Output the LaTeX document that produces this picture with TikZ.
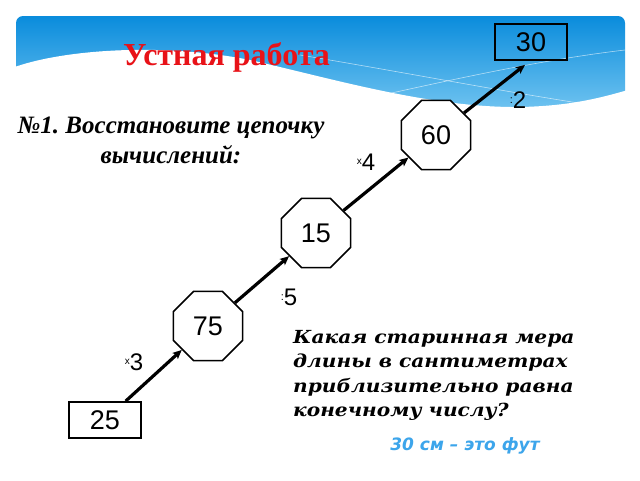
\documentclass[tikz,border=0pt]{standalone}
\usepackage{fontspec}
\setmainfont{Liberation Serif}
\newfontfamily\arialf{Liberation Sans}
\newfontfamily\qfont[FakeStretch=1.12]{DejaVu Serif}
\newfontfamily\dsans{DejaVu Sans}
\usetikzlibrary{shapes.geometric,arrows.meta}
\definecolor{bannertop}{RGB}{10,140,220}
\definecolor{bannerbot}{RGB}{120,200,242}
\definecolor{titlered}{RGB}{232,18,24}
\definecolor{answerblue}{RGB}{60,165,235}
\frenchspacing
\begin{document}
\begin{tikzpicture}[x=1pt,y=-1pt,
  numbox/.style={draw,line width=1.8pt,minimum width=72pt,minimum height=36pt,inner sep=0pt,font=\arialf\fontsize{27}{27}\selectfont},
  octa/.style={draw,line width=1.6pt,regular polygon,regular polygon sides=8,minimum size=75pt,inner sep=0pt,fill=white,font=\arialf\fontsize{27}{27}\selectfont},
  link/.style={line width=3.2pt,-{Stealth[length=9pt,width=8pt,inset=2pt]}},
  oplabel/.style={font=\arialf\fontsize{24}{24}\selectfont,inner sep=0pt}
]
\useasboundingbox (0,0) rectangle (640,480);
\fill[white] (0,0) rectangle (640,480);
% banner
\shade[top color=bannertop,bottom color=bannerbot,rounded corners=7pt] (16,16) rectangle (625,118);
\begin{scope}
\clip (16,16) rectangle (625,118);
\draw[white,opacity=0.6,line width=0.6pt] (300,55) .. controls (420,75) and (520,95) .. (625,110);
\draw[white,opacity=0.6,line width=0.6pt] (360,100) .. controls (450,80) and (540,60) .. (625,50);
\end{scope}
\fill[white] (12,68) .. controls (60,50) and (160,42) .. (250,60) .. controls (330,78) and (430,108) .. (520,107) .. controls (570,106) and (600,98) .. (628,90) -- (628,130) -- (12,130) -- cycle;

% texts
\node[font=\bfseries\fontsize{32}{32}\selectfont,text=titlered,anchor=base west,inner sep=0pt] (title) at (123,65) {Устная работа};
\node[font=\bfseries\itshape\fontsize{25}{30}\selectfont,align=center] (task) at (171,140) {№1. Восстановите цепочку\\вычислений:};
\node[font=\qfont\bfseries\itshape\fontsize{18}{24.5}\selectfont,align=left,anchor=north west,inner sep=0pt] (question) at (293,330) {Какая старинная мера\\длины в сантиметрах\\приблизительно равна\\конечному числу?};
\node[font=\dsans\bfseries\itshape\fontsize{17}{17}\selectfont,text=answerblue] (answer) at (465,446) {30 см – это фут};

% chain
\node[numbox] (n30) at (531,42) {30};
\node[octa] (n60) at (436,135) {60};
\node[octa] (n15) at (316,233) {15};
\node[octa] (n75) at (208,326) {75};
\node[numbox] (n25) at (105,420) {25};

\draw[link] (n25) -- (n75);
\draw[link] (n75) -- (n15);
\draw[link] (n15) -- (n60);
\draw[link] (n60) -- ([xshift=-6pt,yshift=-4pt]n30.south);

\node[oplabel] (l2) at (518,100) {\raisebox{5pt}{\fontsize{11}{11}\selectfont :}2};
\node[oplabel] (l4) at (366,162) {\raisebox{6pt}{\fontsize{10}{10}\selectfont x}4};
\node[oplabel] (l5) at (289,297) {\raisebox{5pt}{\fontsize{11}{11}\selectfont :}5};
\node[oplabel] (l3) at (134,362) {\raisebox{6pt}{\fontsize{10}{10}\selectfont x}3};
\end{tikzpicture}
\end{document}
